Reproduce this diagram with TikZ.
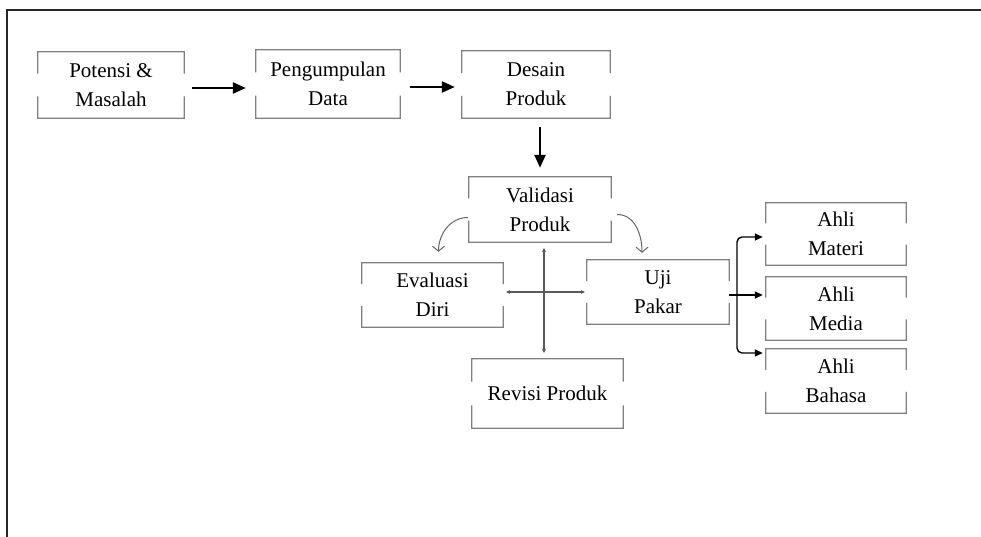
\documentclass[tikz,border=0pt]{standalone}
\usepackage{fontspec}
\setmainfont{Liberation Serif}
\usetikzlibrary{arrows.meta,calc}
\newcommand\gapframe[1]{%
 \draw[boxline] ($(#1.north west)!0.33!(#1.south west)$) -- (#1.north west) -- (#1.north east) -- ($(#1.north east)!0.33!(#1.south east)$);
 \draw[boxline] ($(#1.north west)!0.67!(#1.south west)$) -- (#1.south west) -- (#1.south east) -- ($(#1.north east)!0.67!(#1.south east)$);}
\tikzset{
 gbox/.style={inner sep=0pt, align=center, font=\fontsize{21}{29}\selectfont, text=black},
 boxline/.style={draw=black!50, line width=1.3pt},
 bigarrow/.style={draw=black, line width=2.4pt, -{Triangle[length=13pt,width=11pt]}},
 curvearrow/.style={draw=black!60, line width=1pt, -{Straight Barb[length=5pt,width=12pt]}},
 crossline/.style={draw=black!65, line width=1.1pt, {Stealth[length=4pt,width=4pt]}-{Stealth[length=4pt,width=4pt]}},
 brarrow/.style={draw=black, line width=1.4pt, -{Triangle[length=8pt,width=7pt]}, rounded corners=5pt},
}
\begin{document}
\begin{tikzpicture}[x=1pt,y=-1pt]
\useasboundingbox (0,0) rectangle (981,537);
\fill[white] (0,0) rectangle (981,537);
% outer frame
\draw[black!85, line width=2pt] (7,540) -- (7,10) -- (985,10);
% boxes
\node[gbox, minimum width=146pt, minimum height=66pt] (pot) at (111,85) {Potensi \&\\Masalah};
\node[gbox, minimum width=144pt, minimum height=68pt] (peng) at (328,84) {Pengumpulan\\Data};
\node[gbox, minimum width=148pt, minimum height=67pt] (des) at (536,84.5) {Desain\\Produk};
\node[gbox, minimum width=142pt, minimum height=65pt] (val) at (540,209.5) {Validasi\\Produk};
\node[gbox, minimum width=141pt, minimum height=64pt] (eva) at (432.5,295) {Evaluasi\\Diri};
\node[gbox, minimum width=142pt, minimum height=64pt] (uji) at (658,292) {Uji\\Pakar};
\node[gbox, minimum width=151pt, minimum height=69pt] (rev) at (547.5,393.5) {Revisi Produk};
\node[gbox, minimum width=140pt, minimum height=62pt] (mat) at (836,234) {Ahli\\Materi};
\node[gbox, minimum width=140pt, minimum height=63pt] (med) at (836,308.5) {Ahli\\Media};
\node[gbox, minimum width=140pt, minimum height=64pt] (bah) at (836,381) {Ahli\\Bahasa};
\foreach \n in {pot,peng,des,val,eva,uji,rev,mat,med,bah} {\gapframe{\n}}
% main arrows
\draw[bigarrow, shorten <=8pt, shorten >=10pt] ([yshift=-3pt]pot.east) -- ([yshift=-3pt]pot.east -| peng.west);
\draw[bigarrow, shorten <=10pt, shorten >=7pt] ([yshift=-3pt]peng.east) -- ([yshift=-3pt]peng.east -| des.west);
\draw[bigarrow, shorten <=9pt, shorten >=9pt] ([xshift=4pt]des.south) -- ([xshift=4pt]des.south |- val.north);
% curved arrows
\draw[curvearrow] ([xshift=-1pt,yshift=-8pt]val.west) to[out=180,in=90] ([xshift=6pt,yshift=11pt]eva.north);
\draw[curvearrow] ([xshift=6pt,yshift=-5pt]val.east) to[out=0,in=90] ([xshift=-16pt,yshift=7pt]uji.north);
% cross
\draw[crossline, shorten <=6pt, shorten >=6pt] ([xshift=4pt]val.south) -- ([xshift=4pt]val.south |- rev.north);
\draw[crossline, shorten <=3pt, shorten >=2pt] ([yshift=3pt]eva.east) -- (uji.west);
% bracket to experts
\coordinate (br) at ([yshift=-3pt]uji.east -| 737,0);
\draw[brarrow, shorten >=3pt] ([yshift=-3pt]uji.east) -- ([yshift=-3pt]uji.east -| med.west);
\draw[brarrow, shorten >=3pt] (br) |- ([yshift=-3pt]mat.west);
\draw[brarrow, shorten >=3pt] (br) |- ([yshift=28pt]bah.west);
\end{tikzpicture}
\end{document}
